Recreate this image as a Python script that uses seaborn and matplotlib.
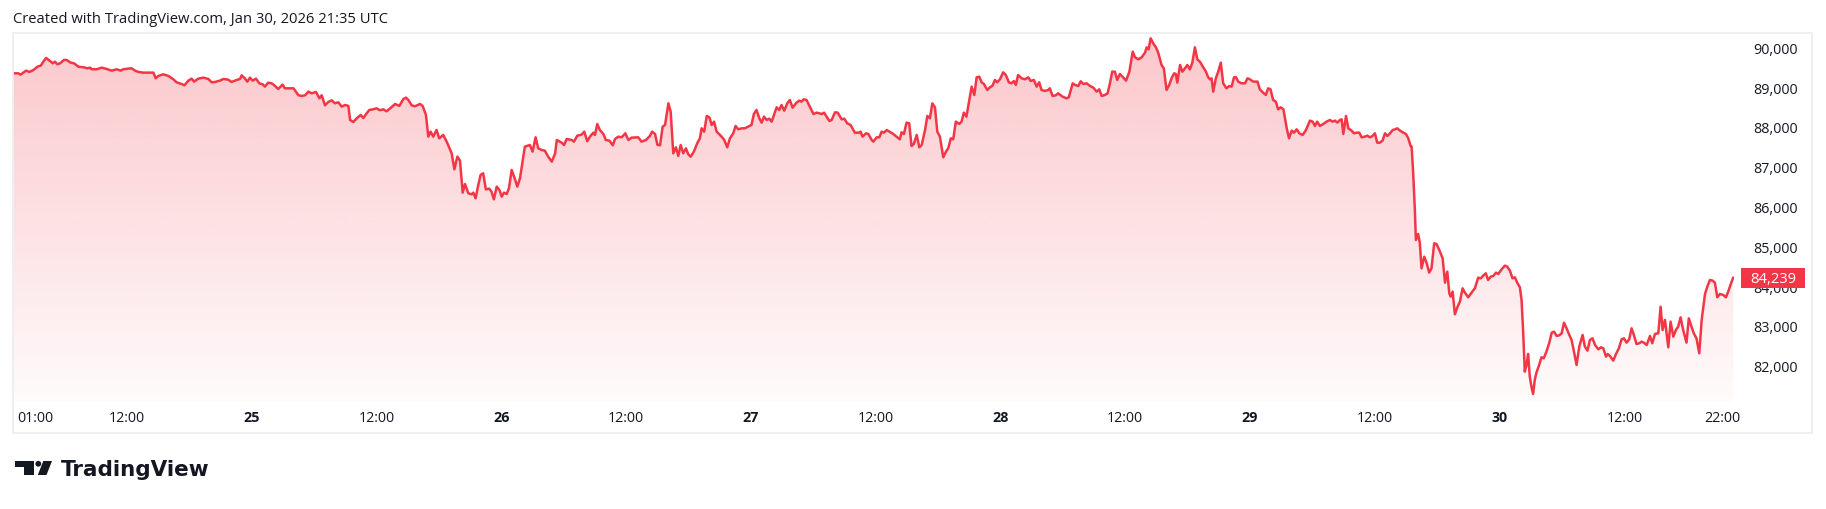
import numpy as np
import pandas as pd
import matplotlib
matplotlib.use("Agg")
import matplotlib.pyplot as plt
import seaborn as sns
from matplotlib.patches import PathPatch, Rectangle, Circle, Polygon

# ---------------- data (hours since Jan 24 00:00, price) ----------------
hours_a = [1.09,1.57,1.79,2.31,2.64,3.03,3.41,3.73,3.98,4.24,4.62,4.88,5.10,5.32,5.58,5.96,6.22,6.60,6.92,7.34,
           7.83,8.22,8.47,8.63,9.11,9.59,10.07,10.55,11.02,11.41,11.66,12.14,12.46,12.80,13.12,13.60,14.56,14.78,15.03,15.51,
           16.01,16.47,16.79,17.27,17.54,17.92,18.24,18.47,18.88,19.36,19.84,20.16,20.48,20.96,21.28,21.75,22.07,22.57,22.89,23.05,
           23.37,23.59,23.85,24.10,24.42,24.74,25.06,25.28,25.60,25.92,26.15,26.56,26.98,27.20,28.03,28.51,28.82,29.14,29.46,29.78,
           30.20,30.52,30.74,31.06,31.38,31.70,32.02,32.34,32.67,32.99,33.31,33.47,33.79,34.11,34.49,34.75,35.07,35.32,35.70,36.02,
           36.34,36.66,36.98,37.30,37.80,38.21,38.60,38.85,39.08,39.39,39.71,40.19,40.45,40.77,40.99,41.21,41.47,41.79,42.04,42.43,
           42.76,43.24,43.50,43.79]
price_a = [89371,89371,89338,89438,89405,89455,89539,89564,89664,89757,89681,89623,89664,89597,89623,89706,89706,89639,89623,89539,
           89522,89497,89514,89472,89472,89514,89480,89438,89472,89438,89472,89489,89497,89438,89405,89388,89388,89246,89304,89346,
           89304,89221,89145,89103,89070,89187,89237,89162,89237,89262,89229,89145,89154,89187,89229,89212,89154,89204,89229,89321,
           89237,89162,89262,89187,89237,89120,89095,89036,89137,89120,89078,88978,89087,88994,88994,88819,88802,88819,88911,88869,
           88902,88743,88819,88567,88651,88693,88618,88643,88534,88576,88551,88199,88149,88241,88325,88249,88367,88450,88467,88492,
           88442,88467,88417,88484,88601,88551,88726,88760,88701,88567,88542,88601,88551,88325,87780,87906,87780,87948,87738,87822,
           87654,87361,86959,87278]

hours_b = [44.04,44.30,44.52,44.84,45.16,45.32,45.54,45.80,46.02,46.27,46.53,46.85,47.07,47.30,47.57,47.83,48.05,48.27,48.53,48.75,
           49.01,49.33,49.55,49.81,50.28,50.76,51.02,51.31,51.56,51.88,52.20,52.52,52.87,53.19,53.35,53.82,54.05,54.30,54.78,55.00,
           55.32,55.74,55.99,56.28,56.54,56.86,57.02,57.24,57.49,57.83,58.06,58.41,58.73,58.95,59.27,59.59,59.94,60.23,60.55,61.18,
           61.50,61.92,62.30,62.52,62.80,63.02,63.28,63.53,63.76,64.08,64.30,64.55,64.81,65.03,65.26,65.51,65.77,65.99,66.22,66.53,
           66.85,67.11,67.27,67.52,67.77,68.02,68.24,68.47,68.72,69.04,69.42,69.74,70.00,70.32,70.54,70.80,71.12,71.43,71.75,72.07,
           72.30,72.55,72.83,73.05,73.27,73.53,73.78,74.01,74.49,74.74,74.96,75.22,75.51,75.76,76.02,76.40,76.66,76.88,77.10,77.36,
           77.68,78.03,78.34,78.82,79.05,79.56,79.78,80.10,80.36,80.74,80.99,81.28,81.60,82.01,82.43,82.56,82.75,83.09,83.31,83.63,
           83.79,84.11,84.36,84.59,84.81,85.07,85.38,85.71,86.09,86.34]
price_b = [87177,86373,86590,86356,86331,86373,86230,86565,86817,86859,86456,86473,86398,86205,86524,86440,86272,86373,86339,86482,
           86942,86708,86524,86733,87529,87570,87403,87763,87487,87445,87428,87277,87152,87361,87696,87629,87570,87721,87696,87654,
           87805,87830,87905,87663,87780,87880,87822,88098,87947,87847,87696,87679,87562,87721,87780,87763,87864,87696,87755,87763,
           87654,87696,87797,87905,87847,87579,87562,88031,88073,88617,88408,87361,87512,87294,87570,87361,87487,87336,87277,87403,
           87612,87738,87989,87905,88299,88265,88073,88157,87905,87822,87713,87512,87738,87864,88048,87964,87989,87989,88031,88073,
           88349,88450,88240,88131,88282,88199,88232,88157,88517,88450,88575,88433,88617,88701,88508,88634,88684,88659,88718,88701,
           88534,88349,88383,88349,88383,88173,88199,88391,88383,88215,88232,88115,88073,87880,87880,87905,87780,87864,87847,87696,
           87654,87763,87763,87905,87880,87947,87897,87847,87763,87713]

hours_c = [86.50,86.73,86.98,87.24,87.46,87.68,87.96,88.21,88.44,88.76,88.98,89.23,89.46,89.71,89.94,90.19,90.51,90.77,90.99,91.24,
           91.47,91.72,92.04,92.27,92.49,92.74,93.02,93.24,93.50,93.72,93.98,94.20,94.42,94.74,95.00,95.25,95.48,95.70,95.96,96.27,
           96.53,96.82,97.07,97.30,97.49,97.71,98.05,98.37,98.69,98.91,99.23,99.49,99.74,99.96,100.28,100.60,100.76,101.02,101.34,101.56,
           101.98,102.36,102.58,102.96,103.19,103.50,103.73,103.98,104.30,104.62,104.94,105.26,105.51,105.74,106.06,106.31,106.54,106.76,107.01,107.24,
           107.49,107.81,108.09,108.41,108.73,108.95,109.27,109.59,109.91,110.07,110.26,110.45,110.70,110.96,111.18,111.50,111.72,111.98,112.24,112.46,
           112.71,112.87,113.02,113.28,113.50,113.76,113.98,114.23,114.46,114.71,114.94,115.19,115.51,115.77,115.99,116.15,116.31,116.47,116.72,116.95,
           117.20,117.43,117.74,118.02,118.24,118.47,118.66,118.88,119.20,119.52,119.77,120.00,120.32,120.73,120.95,121.27,121.53,121.75,121.98,122.23,
           122.49,122.71,122.96,123.22,123.54,123.76,124.02,124.24,124.50,124.75,125.07,125.39,125.77,126.03,126.25,126.47,126.73,127.05,127.37,127.69,
           127.94,128.18,128.41,128.66]
price_c = [87889,87847,88132,88115,87545,87596,87822,87512,87570,87947,88299,88240,88617,88517,87905,87780,87261,87403,87487,87738,
           87713,88157,88098,88157,88383,88282,88701,89036,88827,89270,89287,89145,89103,88952,89019,89061,89204,89145,89220,89396,
           89329,89145,89120,89178,89078,89329,89245,89220,89270,89178,89204,89036,89145,88952,88927,88952,88994,88802,88818,88869,
           88785,88743,88768,89120,89078,89053,89170,89103,89120,89053,89011,88911,88969,88802,88827,88869,89120,89413,89413,89204,
           89354,89270,89187,89413,89915,89773,89723,89773,89890,90024,89974,90250,90125,90024,89890,89580,89497,88952,89078,89245,
           89371,89354,89137,89580,89413,89497,89580,89471,89639,90024,89723,89664,89522,89413,89271,89220,89245,88911,89245,89413,
           89639,89120,88994,89053,89036,89271,89271,89162,89120,89120,89245,89220,89162,89162,88969,88885,88827,88994,88969,88701,
           88659,88467,88517,88467,87989,87738,87931,87880,87964,87864,87822,87947,88182,88157,88048,88157,88048,88098,88157,88199,
           88157,88182,88132,88199]

hours_d = [128.82,128.98,129.24,129.46,129.78,130.00,130.26,130.52,130.74,131.06,131.28,131.54,131.79,132.02,132.24,132.49,132.75,132.99,133.22,133.47,
           133.73,133.95,134.17,134.43,134.75,135.00,135.23,135.45,135.55,135.70,135.86,135.96,136.18,136.34,136.50,136.76,136.98,137.24,137.46,137.72,
           137.94,138.21,138.53,138.76,138.98,139.17,139.30,139.49,139.71,139.94,140.19,140.45,140.67,140.99,141.31,141.63,141.95,142.20,142.43,142.68,
           142.90,143.15,143.40,143.66,143.88,144.20,144.52,144.74,145.00,145.25,145.48,145.70,145.96,146.12,146.28,146.43,146.59,146.75,146.91,147.07,
           147.23,147.39,147.55,147.81,148.03,148.25,148.51,148.79,149.02,149.24,149.50,149.75,149.98,150.20,150.45,150.71,150.93,151.16,151.41,151.67,
           151.99,152.21,152.46,152.69,152.94,153.19,153.50,153.76,153.98,154.24,154.40,154.62,154.94,155.20,155.48,155.74,155.96,156.22,156.47,156.70,
           156.92,157.17,157.43,157.65,157.88,158.15,158.47,158.69,158.95,159.27,159.49,159.68,159.91,160.23,160.45,160.71,160.96,161.18,161.41,161.66,
           161.98,162.20,162.46,162.68,162.94,163.21,163.44,163.76,163.98,164.23,164.49,164.71,164.94,165.19,165.51,165.77,165.99,166.21,166.47]
price_d = [88215,87847,88299,87989,87931,87864,87880,87880,87763,87780,87805,87763,87797,87864,87629,87629,87679,87864,87797,87864,
           87947,87964,87989,87931,87880,87847,87738,87545,87528,86859,85937,85184,85334,85100,84472,84765,84614,84363,84472,85100,
           85083,84932,84723,84112,84388,83844,83760,83885,83316,83492,83634,83969,83860,83743,83860,83969,84237,84220,84287,84346,
           84178,84262,84279,84363,84329,84446,84539,84514,84413,84220,84246,84112,83994,83676,82839,81875,82043,82319,81750,81498,
           81314,81666,81850,82043,82236,82210,82378,82604,82855,82880,82772,82788,82839,83106,82964,82797,82671,82378,82043,82504,
           82797,82504,82403,82671,82713,82545,82437,82487,82462,82252,82319,82269,82152,82319,82462,82688,82713,82604,82688,82964,
           82797,82571,82587,82629,82604,82545,82772,82587,82822,82839,83508,82922,83174,82487,83132,82755,82922,83006,83240,82922,
           82604,83215,83006,82839,82713,82336,83174,83827,84011,84178,84162,84112,83743,83827,83802,83743,83885,84053,84239]

last_price = 84239
y_ticks = [82000, 83000, 84000, 85000, 86000, 87000, 88000, 89000, 90000]
x_tick_hours = [12, 24, 36, 48, 60, 72, 84, 96, 108, 120, 132, 144, 156]
x_tick_labels = ["12:00", "25", "12:00", "26", "12:00", "27", "12:00", "28",
                 "12:00", "29", "12:00", "30", "12:00"]
edge_labels = ["01:00", "22:00"]
header = "Created with TradingView.com, Jan 30, 2026 21:35 UTC"

df = pd.DataFrame({
    "hours": hours_a + hours_b + hours_c + hours_d,
    "price": price_a + price_b + price_c + price_d,
})

# ---------------- style ----------------
sns.set_theme(style="white")
plt.rcParams["font.family"] = ["Open Sans", "DejaVu Sans"]
TEXT = "#131722"
RED = "#F23645"
FS = 10.3

W, H = 1826, 509
fig = plt.figure(figsize=(W / 100, H / 100), dpi=100)
fig.patch.set_facecolor("white")

pane_l, pane_r, pane_t, pane_b = 12.7, 1733.5, 33.0, 402.0
ax = fig.add_axes([pane_l / W, 1 - pane_b / H, (pane_r - pane_l) / W, (pane_b - pane_t) / H])
ax.set_facecolor("white")

xlim = (1.03, 166.5)
ylim = (81113, 90384)

# gradient area under the line
fb = ax.fill_between(df["hours"], df["price"], ylim[0], color="none", lw=0)
clip = PathPatch(fb.get_paths()[0], transform=ax.transData, facecolor="none", edgecolor="none")
ax.add_patch(clip)
n = 256
img = np.zeros((n, 1, 4))
img[..., 0] = 242 / 255
img[..., 1] = 54 / 255
img[..., 2] = 69 / 255
img[..., 3] = np.linspace(0.28, 0.02, n).reshape(-1, 1)
im = ax.imshow(img, extent=[xlim[0], xlim[1], ylim[0], max(df["price"])], aspect="auto",
               origin="upper", zorder=1, interpolation="bilinear")
im.set_clip_path(clip)

sns.lineplot(data=df, x="hours", y="price", ax=ax, color=RED, linewidth=1.8,
             estimator=None, sort=False, zorder=3)

ax.set_xlim(*xlim)
ax.set_ylim(*ylim)
ax.set_xlabel("")
ax.set_ylabel("")
for s in ax.spines.values():
    s.set_visible(False)
ax.grid(False)

# y axis on the right
ax.yaxis.tick_right()
ax.set_yticks(y_ticks)
ax.set_yticklabels([f"{v:,}" for v in y_ticks])
ax.tick_params(axis="y", length=0, pad=14, labelsize=FS, labelcolor=TEXT)

# x axis
ax.set_xticks(x_tick_hours)
ax.set_xticklabels(x_tick_labels)
ax.tick_params(axis="x", length=0, pad=6.3, labelsize=FS, labelcolor=TEXT)
for lab in ax.get_xticklabels():
    if ":" not in lab.get_text():
        lab.set_fontweight("bold")

ax.annotate(edge_labels[0], xy=((17.0 - pane_l) / (pane_r - pane_l), 0), xycoords="axes fraction",
            xytext=(0, -6.3), textcoords="offset points", ha="left", va="top",
            fontsize=FS, color=TEXT)
ax.annotate(edge_labels[1], xy=((1722.0 - pane_l) / (pane_r - pane_l), 0), xycoords="axes fraction",
            xytext=(0, -6.3), textcoords="offset points", ha="center", va="top",
            fontsize=FS, color=TEXT)

# last price label
trans = matplotlib.transforms.blended_transform_factory(ax.transAxes, ax.transData)
pw = pane_r - pane_l
ypp = (ylim[1] - ylim[0]) / (pane_b - pane_t)
box = Rectangle(((1740.7 - pane_l) / pw, last_price - 10 * ypp), 64.3 / pw, 20 * ypp,
                transform=trans, facecolor=RED, edgecolor="none", clip_on=False, zorder=6)
ax.add_patch(box)
ax.text((1772.85 - pane_l) / pw, last_price, f"{last_price:,}", transform=trans, ha="center",
        va="center_baseline", color="white", fontsize=10.6, zorder=7, clip_on=False)

# outer frame
fig.patches.append(Rectangle((12.7 / W, 1 - 433 / H), (1812 - 12.7) / W, (433 - 33) / H,
                             transform=fig.transFigure, facecolor="none", edgecolor="#EEEEEE",
                             lw=1.3, zorder=0))

# header
fig.text(13.3 / W, 1 - 19.5 / H, header, ha="left", va="center", fontsize=10.6, color=TEXT)

# logo
lax = fig.add_axes([0, 0, 1, 1], zorder=10)
lax.set_xlim(0, W)
lax.set_ylim(H, 0)
lax.axis("off")
lax.patch.set_alpha(0)
ink = "#131722"
lax.add_patch(Polygon([(15, 461.0), (33.5, 461.0), (33.5, 475.0), (24, 475.0), (24, 466.5), (15, 466.5)],
                      closed=True, facecolor=ink, edgecolor="none"))
lax.add_patch(Circle((38.3, 463.8), 2.9, facecolor=ink, edgecolor="none"))
lax.add_patch(Polygon([(43.3, 461.0), (52.0, 461.0), (46.5, 475.0), (37.8, 475.0)],
                      closed=True, facecolor=ink, edgecolor="none"))
lax.text(61.0, 475.5, "TradingView", ha="left", va="baseline", fontsize=15.5,
         fontweight="bold", color=ink, family=["DejaVu Sans"])

fig.savefig("out.png", dpi=100, facecolor="white")
